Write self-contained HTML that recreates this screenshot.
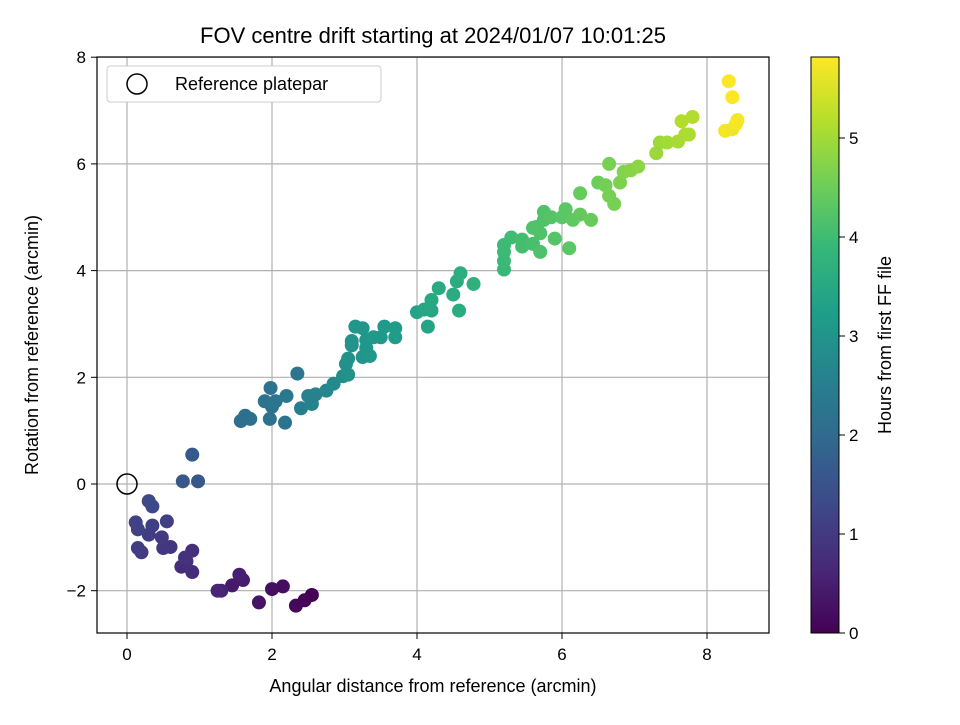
<!DOCTYPE html>
<html><head><meta charset="utf-8"><style>
body{margin:0;background:#fff}
svg text{font-family:"Liberation Sans","DejaVu Sans",sans-serif;fill:#000}
</style></head><body>
<svg id="chart" width="960" height="720" viewBox="0 0 960 720">
<defs><linearGradient id="vir" x1="0" y1="1" x2="0" y2="0">
<stop offset="0" stop-color="#440154"/><stop offset="0.111" stop-color="#482878"/><stop offset="0.222" stop-color="#3e4989"/><stop offset="0.333" stop-color="#31688e"/><stop offset="0.444" stop-color="#26828e"/><stop offset="0.556" stop-color="#1f9e89"/><stop offset="0.667" stop-color="#35b779"/><stop offset="0.778" stop-color="#6ece58"/><stop offset="0.889" stop-color="#b5de2b"/><stop offset="1" stop-color="#fde725"/></linearGradient>
<clipPath id="pc"><rect x="97" y="57" width="672" height="576"/></clipPath></defs>
<text x="433" y="43" font-size="22" text-anchor="middle">FOV centre drift starting at 2024/01/07 10:01:25</text>
<g id="grid"></g>
<g id="pts" clip-path="url(#pc)"></g>
<rect x="97" y="57" width="672" height="576" fill="none" stroke="#000" stroke-width="1.2"/>
<g id="xt"></g>
<g id="yt"></g>
<text x="433" y="692" font-size="18" text-anchor="middle">Angular distance from reference (arcmin)</text>
<text transform="translate(38,345) rotate(-90)" font-size="18" text-anchor="middle">Rotation from reference (arcmin)</text>
<g>
<rect x="107" y="66" width="274" height="36" rx="3" fill="#fff" stroke="#ccc"/>
<circle cx="137" cy="84" r="10" fill="none" stroke="#000" stroke-width="1.5"/>
<text x="175" y="90" font-size="18">Reference platepar</text>
</g>
<rect x="811" y="57" width="28" height="576" fill="url(#vir)" stroke="#000" stroke-width="1"/>
<g id="ct"></g>
<text transform="translate(891,345) rotate(-90)" font-size="18" text-anchor="middle">Hours from first FF file</text>
</svg>
<script>
const xTicks=[0,2,4,6,8];
const yTicks=[-2,0,2,4,6,8];
const cTicks=[0,1,2,3,4,5];
const xs=[2.55,2.45,2.33,2.15,2.0,1.82,1.6,1.55,1.45,1.3,1.25,0.9,0.9,0.82,0.75,0.8,0.6,0.5,0.48,0.35,0.3,0.55,0.2,0.15,0.12,0.15,0.3,0.35,0.77,0.98,0.9,1.57,1.63,1.7,1.9,1.98,2.0,1.97,2.05,2.18,2.2,2.35,2.4,2.5,2.55,2.6,2.75,2.85,2.98,3.02,3.05,3.05,3.1,3.1,3.15,3.25,3.25,3.3,3.3,3.35,3.4,3.5,3.55,3.7,3.7,4.0,4.1,4.15,4.2,4.2,4.3,4.5,4.55,4.6,4.58,4.78,5.2,5.2,5.2,5.2,5.3,5.45,5.45,5.6,5.65,5.7,5.75,5.7,5.75,5.85,5.6,5.9,6.0,6.05,6.1,6.15,6.25,6.25,6.4,6.5,6.6,6.65,6.65,6.72,6.8,6.85,6.95,7.05,7.3,7.35,7.45,7.6,7.7,7.75,7.65,7.8,8.25,8.35,8.4,8.42,8.3,8.35];
const ys=[-2.08,-2.18,-2.28,-1.92,-1.97,-2.22,-1.8,-1.7,-1.9,-2.0,-2.0,-1.65,-1.25,-1.45,-1.55,-1.38,-1.18,-1.2,-1.0,-0.78,-0.95,-0.7,-1.28,-1.2,-0.72,-0.85,-0.32,-0.42,0.05,0.05,0.55,1.18,1.28,1.22,1.55,1.8,1.45,1.22,1.55,1.15,1.65,2.07,1.42,1.65,1.5,1.68,1.75,1.88,2.02,2.25,2.35,2.05,2.6,2.68,2.95,2.92,2.38,2.7,2.55,2.4,2.75,2.75,2.95,2.92,2.75,3.22,3.27,2.95,3.25,3.45,3.67,3.55,3.8,3.95,3.25,3.75,4.02,4.18,4.35,4.48,4.62,4.58,4.45,4.5,4.82,4.35,4.95,4.7,5.1,5.0,4.8,4.6,5.0,5.15,4.42,4.95,5.05,5.45,4.95,5.65,5.6,6.0,5.4,5.25,5.65,5.85,5.88,5.95,6.2,6.4,6.4,6.42,6.55,6.55,6.8,6.88,6.62,6.65,6.75,6.82,7.55,7.25];
const hours=[0.0,0.05,0.1,0.2,0.25,0.3,0.45,0.5,0.4,0.55,0.6,0.75,0.8,0.8,0.75,0.85,0.9,0.95,1.0,1.1,1.05,1.1,1.0,1.05,1.15,1.15,1.3,1.3,1.6,1.6,1.65,2.1,2.15,2.15,2.2,2.2,2.25,2.2,2.3,2.25,2.35,2.3,2.5,2.55,2.6,2.6,2.7,2.75,2.85,2.9,2.95,2.95,3.0,3.0,3.05,3.05,3.0,3.05,3.05,3.05,3.1,3.1,3.15,3.2,3.2,3.4,3.45,3.4,3.45,3.5,3.55,3.6,3.6,3.65,3.6,3.7,3.9,3.95,3.95,3.95,4.0,4.05,4.05,4.1,4.15,4.15,4.2,4.2,4.2,4.25,4.2,4.25,4.3,4.3,4.3,4.35,4.4,4.45,4.45,4.5,4.55,4.6,4.6,4.6,4.65,4.7,4.75,4.8,4.95,4.95,5.0,5.05,5.1,5.1,5.15,5.15,5.75,5.7,5.75,5.75,5.8,5.8];
const X=v=>127+v*72.5, Y=v=>484-v*53.35, C=v=>633-v*99;
const stops=[[68,1,84],[72,40,120],[62,73,137],[49,104,142],[38,130,142],[31,158,137],[53,183,121],[110,206,88],[181,222,43],[253,231,37]];
function vir(h){let t=Math.max(0,Math.min(1,h/5.82))*(stops.length-1);let i=Math.min(stops.length-2,Math.floor(t)),f=t-i;const a=stops[i],b=stops[i+1];return `rgb(${a.map((v,k)=>Math.round(v+(b[k]-v)*f)).join(',')})`;}
const NS='http://www.w3.org/2000/svg';
function mk(tag,at,par){const e=document.createElementNS(NS,tag);for(const k in at)e.setAttribute(k,at[k]);document.getElementById(par).appendChild(e);return e;}
xTicks.forEach(v=>{
const g=mk('line',{x1:X(v),x2:X(v),y1:57,y2:633,stroke:'#b0b0b0','stroke-width':1.2},'grid');


const t=mk('line',{x1:X(v),x2:X(v),y1:633,y2:639,stroke:'#000'},'xt');


const l=mk('text',{x:X(v),y:660,'font-size':17,'text-anchor':'middle'},'xt');l.textContent=v;


});
yTicks.forEach(v=>{
const g=mk('line',{x1:97,x2:769,y1:Y(v),y2:Y(v),stroke:'#b0b0b0','stroke-width':1.2},'grid');


const t=mk('line',{x1:91,x2:97,y1:Y(v),y2:Y(v),stroke:'#000'},'yt');


const l=mk('text',{x:86,y:Y(v)+6,'font-size':17,'text-anchor':'end'},'yt');l.textContent=v<0?'\u2212'+(-v):v;


});
cTicks.forEach(v=>{
const t=mk('line',{x1:839,x2:845,y1:C(v),y2:C(v),stroke:'#000'},'ct');


const l=mk('text',{x:849,y:C(v)+6,'font-size':17},'ct');l.textContent=v;


});
xs.forEach((x,i)=>{
const c=mk('circle',{cx:X(x),cy:Y(ys[i]),r:7,fill:vir(hours[i])},'pts');


});
const r=mk('circle',{cx:X(0),cy:Y(0),r:10,fill:'none',stroke:'#000','stroke-width':1.5},'pts');


</script>
</body></html>
